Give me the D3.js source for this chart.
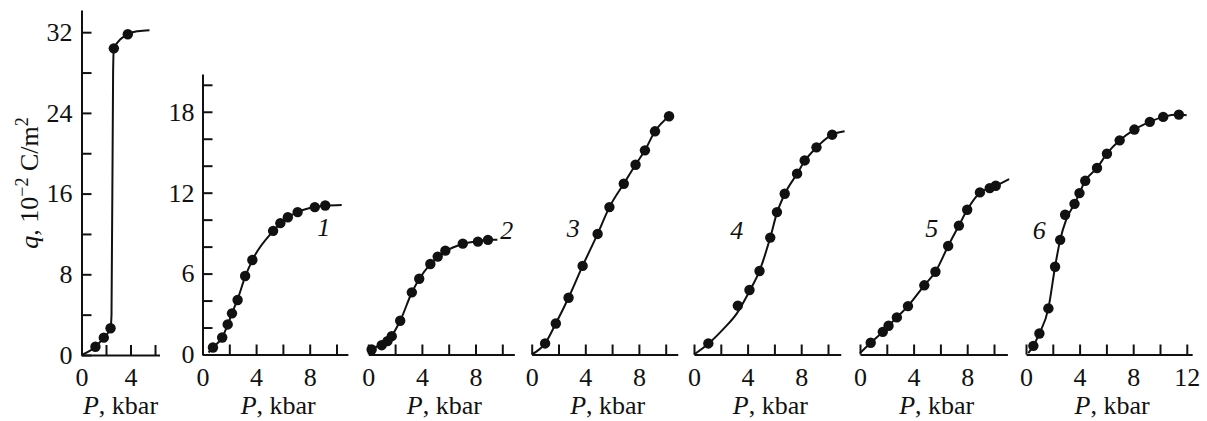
<!DOCTYPE html>
<html>
<head>
<meta charset="utf-8">
<script src="https://cdn.jsdelivr.net/npm/d3@7"></script>
<style>
  body { margin: 0; background: #fff; }
  svg { display: block; font-family: "Liberation Serif", "DejaVu Serif", serif; }
  .axis path, .axis line { stroke: #111; stroke-width: 2; }
  .axis text { font-family: "Liberation Serif", "DejaVu Serif", serif; font-size: 26px; fill: #111; }
  .lbl { font-family: "Liberation Serif", "DejaVu Serif", serif; font-size: 26px; fill: #111; }
</style>
</head>
<body>
<div id="chart"></div>
<script>
// data: [P (kbar), q (10^-2 C/m^2)]
// left panel (different q scale)
var pts0 = [[1.14, 0.82], [1.82, 1.72], [2.37, 2.65], [2.64, 30.4], [3.78, 31.8]];
var fit0 = [[0, 0], [1.14, 0.82], [1.82, 1.72], [2.37, 2.65], [2.45, 4], [2.58, 28], [2.64, 30.4], [3.78, 31.8], [4.6, 32.1], [5.55, 32.2]];

var pts1 = [[0.78, 0.52], [1.47, 1.26], [1.88, 2.23], [2.2, 3.05], [2.62, 4.04], [3.18, 5.82], [3.72, 7.01], [5.27, 9.17], [5.81, 9.74], [6.37, 10.18], [7.1, 10.56], [8.38, 10.93], [9.16, 11.05]];
var fit1 = [[0.45, 0.15], [0.78, 0.52], [1.47, 1.26], [1.88, 2.2], [2.2, 3.05], [2.62, 4.1], [3.18, 5.75], [3.72, 7.0], [5.27, 9.15], [5.81, 9.74], [6.37, 10.18], [7.1, 10.56], [8.38, 10.93], [9.16, 11.03], [10.39, 11.08]];

var pts2 = [[0.25, 0.37], [1.0, 0.69], [1.43, 0.99], [1.75, 1.36], [2.38, 2.5], [3.25, 4.61], [3.8, 5.62], [4.63, 6.71], [5.18, 7.26], [5.75, 7.7], [7.05, 8.22], [8.18, 8.37], [8.93, 8.5]];
var fit2 = [[0, 0.15], [0.25, 0.37], [1.0, 0.75], [1.75, 1.4], [2.38, 2.5], [3.25, 4.6], [3.8, 5.6], [4.63, 6.7], [5.75, 7.65], [7.05, 8.2], [8.18, 8.4], [8.93, 8.5], [9.63, 8.5]];

var pts3 = [[1.0, 0.82], [1.8, 2.3], [2.75, 4.21], [3.8, 6.57], [4.92, 8.94], [5.8, 10.93], [6.87, 12.66], [7.75, 14.07], [8.45, 15.14], [9.2, 16.55], [10.25, 17.67]];
var fit3 = [[0, 0], [1.0, 0.82], [1.8, 2.3], [2.75, 4.21], [3.8, 6.57], [4.92, 8.94], [5.8, 10.93], [6.87, 12.66], [7.75, 14.07], [8.45, 15.14], [9.2, 16.55], [10.25, 17.67]];

var pts4 = [[1.07, 0.82], [3.27, 3.62], [4.14, 4.78], [4.89, 6.19], [5.69, 8.67], [6.19, 10.56], [6.77, 11.92], [7.69, 13.41], [8.26, 14.39], [9.14, 15.36], [10.31, 16.3]];
var fit4 = [[0, 0], [1.07, 0.8], [2.2, 1.9], [3.2, 3.05], [4.14, 4.7], [4.89, 6.2], [5.69, 8.67], [6.19, 10.5], [6.77, 11.9], [7.69, 13.4], [8.26, 14.35], [9.14, 15.35], [10.31, 16.3], [11.24, 16.55]];

var pts5 = [[0.8, 0.87], [1.7, 1.68], [2.13, 2.13], [2.75, 2.75], [3.58, 3.59], [4.8, 5.13], [5.63, 6.14], [6.58, 8.05], [7.38, 9.56], [8.0, 10.73], [8.95, 12.02], [9.68, 12.34], [10.13, 12.51]];
var fit5 = [[0, 0.1], [0.8, 0.87], [1.7, 1.68], [2.13, 2.13], [2.75, 2.75], [3.58, 3.59], [4.8, 5.13], [5.63, 6.14], [6.58, 8.05], [7.38, 9.56], [8.0, 10.73], [8.95, 12.0], [9.68, 12.34], [10.13, 12.51], [11.13, 13.0]];

var pts6 = [[0.55, 0.64], [1.0, 1.56], [1.67, 3.42], [2.17, 6.51], [2.55, 8.5], [2.92, 10.36], [3.62, 11.17], [3.99, 11.97], [4.42, 12.88], [5.3, 13.83], [6.04, 14.89], [6.99, 15.88], [8.09, 16.68], [9.24, 17.25], [10.24, 17.62], [11.41, 17.79]];
var fit6 = [[0.17, 0.1], [0.55, 0.64], [1.0, 1.56], [1.67, 3.42], [2.17, 6.51], [2.55, 8.5], [3.0, 10.0], [3.62, 11.17], [3.99, 11.97], [4.42, 12.88], [5.3, 13.83], [6.04, 14.89], [6.99, 15.88], [8.09, 16.68], [9.24, 17.25], [10.24, 17.62], [11.41, 17.79], [11.99, 17.74]];

var curveNames = ["1", "2", "3", "4", "5", "6"];
var namePos = [[9.05, 9.46], [10.33, 9.24], [3.1, 9.37], [3.19, 9.24], [5.35, 9.4], [0.99, 9.24]];

// tick values
var leftYTicks = d3.range(0, 33, 4);
var leftYLabels = [0, 8, 16, 24, 32];
var rightYTicks = d3.range(0, 21, 2);
var rightYLabels = [0, 6, 12, 18];
var xLabelsEvery = 4;

var svgWidth = 1207, svgHeight = 421;
var svg = d3.select("#chart").append("svg")
  .attr("width", svgWidth)
  .attr("height", svgHeight);

// layout
var left = { x0: 81.5, k: 12.25, xmax: 6.37, yBottom: 355, yTop: 10, ymax: 34.2 };
var right = { yBottom: 354.5, yTop: 74, ymax: 20.8 };
var panelX0 = [202.5, 368.3, 531.7, 694, 860, 1026];
var panelXmax = [10.85, 10.9, 10.9, 10.95, 11.0, 12.4];
var kx = 13.4;

var line = d3.line().curve(d3.curveMonotoneX);

function styleAxis(g) {
  g.attr("font-family", null).attr("font-size", null);
  g.selectAll("text").attr("fill", "#111");
}

function xAxisOn(g, xs, xmax) {
  var ax = d3.axisBottom(xs)
    .tickValues(d3.range(0, xmax, 2))
    .tickSizeInner(-10)
    .tickSizeOuter(0)
    .tickPadding(13)
    .tickFormat(d => d % xLabelsEvery === 0 ? d : "");
  g.attr("class", "axis").call(ax).call(styleAxis);
}

function drawPanel(xs, ys, pts, fit) {
  svg.append("path")
    .datum(fit)
    .attr("d", line.x(d => xs(d[0])).y(d => ys(d[1])))
    .attr("fill", "none")
    .attr("stroke", "#111")
    .attr("stroke-width", 2);
  svg.append("g").selectAll("circle")
    .data(pts)
    .enter()
    .append("circle")
    .attr("cx", d => xs(d[0]))
    .attr("cy", d => ys(d[1]))
    .attr("r", 5.2)
    .attr("fill", "#111");
}

function xTitle(cx, y) {
  var t = svg.append("text")
    .attr("class", "lbl")
    .attr("x", cx)
    .attr("y", y)
    .attr("text-anchor", "middle");
  t.append("tspan").attr("font-style", "italic").text("P");
  t.append("tspan").text(", kbar");
}

// ---- left panel
var xL = d3.scaleLinear().domain([0, left.xmax]).range([left.x0, left.x0 + left.xmax * left.k]);
var yL = d3.scaleLinear().domain([0, left.ymax]).range([left.yBottom, left.yTop]);

svg.append("g")
  .attr("transform", `translate(0, ${left.yBottom})`)
  .call(g => xAxisOn(g, xL, left.xmax));

svg.append("g")
  .attr("transform", `translate(${left.x0}, 0)`)
  .attr("class", "axis")
  .call(d3.axisLeft(yL)
    .tickValues(leftYTicks)
    .tickSizeInner(-10)
    .tickSizeOuter(0)
    .tickPadding(9)
    .tickFormat(d => leftYLabels.indexOf(d) >= 0 ? d : ""))
  .call(styleAxis);

drawPanel(xL, yL, pts0, fit0);
xTitle((xL.range()[0] + xL.range()[1]) / 2, 414);

// y title
var yt = svg.append("text")
  .attr("class", "lbl")
  .attr("transform", "translate(38, 183) rotate(-90)")
  .attr("text-anchor", "middle");
yt.append("tspan").attr("font-style", "italic").text("q");
yt.append("tspan").text(", 10");
yt.append("tspan").attr("font-size", "18px").attr("dy", "-10").text("\u22122");
yt.append("tspan").attr("dy", "10").text(" C/m");
yt.append("tspan").attr("font-size", "18px").attr("dy", "-10").text("2");

// ---- right group
var yR = d3.scaleLinear().domain([0, right.ymax]).range([right.yBottom, right.yTop]);

svg.append("g")
  .attr("transform", `translate(${panelX0[0]}, 0)`)
  .attr("class", "axis")
  .call(d3.axisLeft(yR)
    .tickValues(rightYTicks)
    .tickSizeInner(-10)
    .tickSizeOuter(0)
    .tickPadding(8)
    .tickFormat(d => rightYLabels.indexOf(d) >= 0 ? d : ""))
  .call(styleAxis);

var allPts = [pts1, pts2, pts3, pts4, pts5, pts6];
var allFit = [fit1, fit2, fit3, fit4, fit5, fit6];

panelX0.forEach(function(x0, i) {
  var xmax = panelXmax[i];
  var xs = d3.scaleLinear().domain([0, xmax]).range([x0, x0 + xmax * kx]);
  var lastTick = i === 5 ? 12.01 : 10.01;
  svg.append("g")
    .attr("transform", `translate(0, ${right.yBottom})`)
    .call(g => xAxisOn(g, xs, lastTick));
  drawPanel(xs, yR, allPts[i], allFit[i]);
  xTitle((xs.range()[0] + xs.range()[1]) / 2 + 3, 414);
  svg.append("text")
    .attr("class", "lbl")
    .attr("font-style", "italic")
    .attr("text-anchor", "middle")
    .attr("x", xs(namePos[i][0]))
    .attr("y", yR(namePos[i][1]))
    .attr("dy", "0.35em")
    .text(curveNames[i]);
});
</script>
</body>
</html>
